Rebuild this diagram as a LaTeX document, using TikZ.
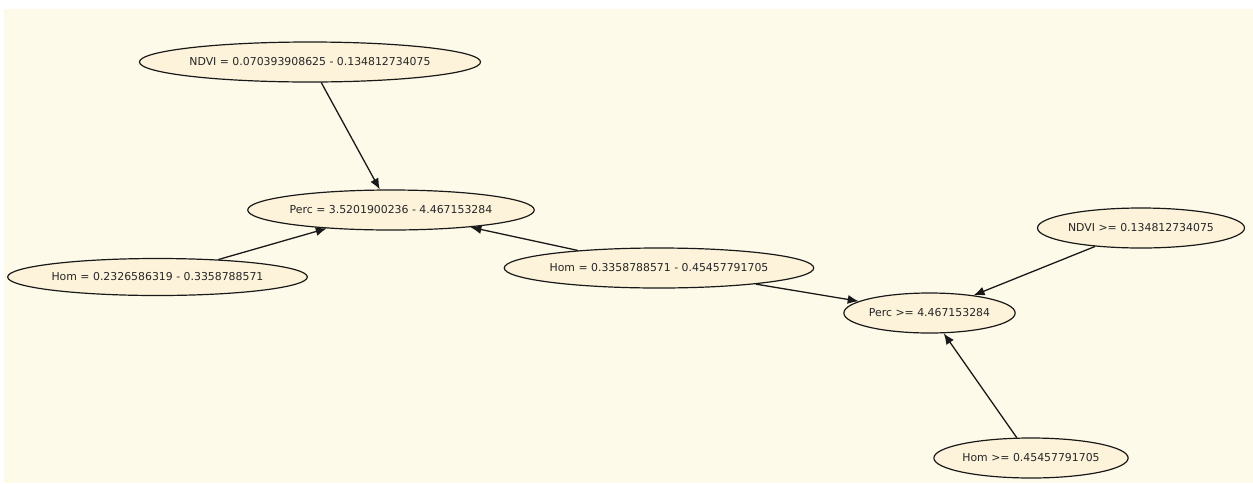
\documentclass[tikz,border=0pt]{standalone}
\usepackage{fontspec}
\setmainfont{DejaVu Sans}
\usetikzlibrary{shapes.geometric,arrows.meta}
\definecolor{bgcream}{HTML}{FEFAE9}
\definecolor{nodefill}{HTML}{FDF3DB}
\definecolor{txtgray}{HTML}{262626}
\tikzset{
  attr/.style={ellipse, draw=black!90, line width=1.2pt, fill=nodefill, inner sep=0pt,
    minimum height=40pt, text=txtgray, font=\fontsize{10.9}{13}\selectfont},
  link/.style={draw=black!90, line width=1.3pt, -{Latex[length=11pt,width=9pt]}}
}
\begin{document}
\begin{tikzpicture}[x=1pt,y=-1pt]
\useasboundingbox (0,0) rectangle (1253,483);
\fill[white] (0,0) rectangle (1253,483);
\fill[bgcream] (4,9) rectangle (1253,483);
\node[attr, minimum width=334pt] (ndvi1) at (310,62) {NDVI = 0.070393908625 - 0.134812734075};
\node[attr, minimum width=282pt] (perc1) at (391,210) {Perc = 3.5201900236 - 4.467153284};
\node[attr, minimum width=293pt, minimum height=37pt] (hom1) at (157.5,277) {Hom = 0.2326586319 - 0.3358788571};
\node[attr, minimum width=300pt] (hom2) at (659,268) {Hom = 0.3358788571 - 0.45457791705};
\node[attr, minimum width=170pt] (perc2) at (929.5,313) {Perc >= 4.467153284};
\node[attr, minimum width=207pt] (ndvi2) at (1141,228) {NDVI >= 0.134812734075};
\node[attr, minimum width=193pt] (hom3) at (1031,458) {Hom >= 0.45457791705};
\draw[link] (ndvi1) -- (perc1);
\draw[link] (hom1) -- (perc1);
\draw[link] (hom2) -- (perc1);
\draw[link] (hom2) -- (perc2);
\draw[link] (ndvi2) -- (perc2);
\draw[link] (hom3) -- (perc2);
\end{tikzpicture}
\end{document}
